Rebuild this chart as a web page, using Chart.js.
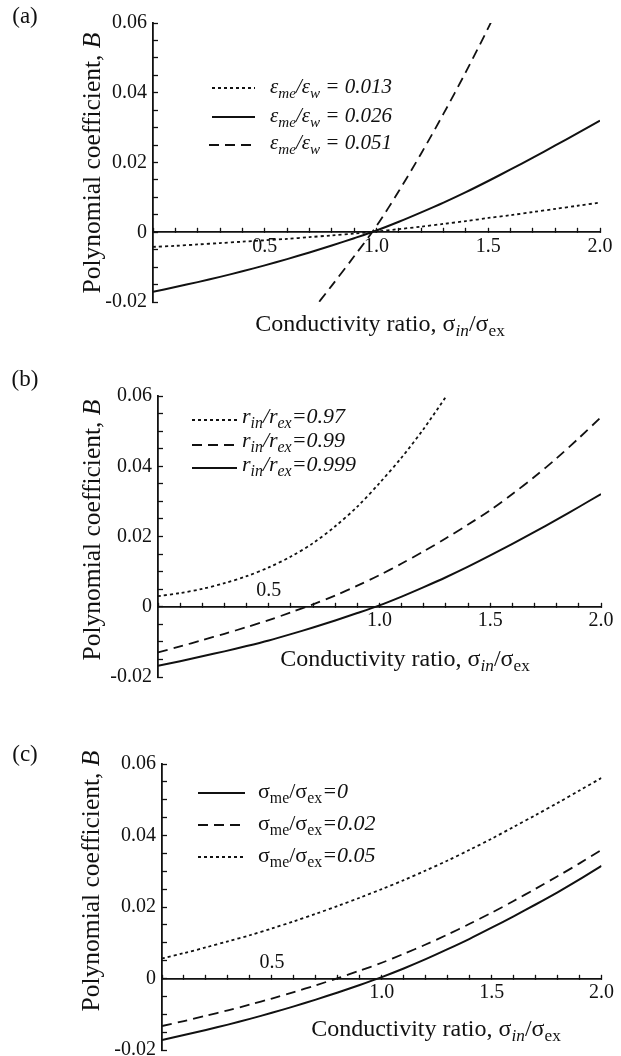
<!DOCTYPE html>
<html><head><meta charset="utf-8">
<script src="https://cdn.jsdelivr.net/npm/chart.js@4.4.1/dist/chart.umd.min.js"></script>
<style>
html,body{margin:0;padding:0;background:#fff;}
body{width:621px;height:1056px;position:relative;overflow:hidden;font-family:"Liberation Serif","Times New Roman",serif;color:#111;}
canvas{position:absolute;left:0;}
.t{position:absolute;white-space:nowrap;line-height:1;transform:translate(-50%,-50%);}
.l{position:absolute;white-space:nowrap;line-height:1;transform:translateY(-50%);font-size:21px;}
.rot{transform:translate(-50%,-50%) rotate(-90deg);}
.sub{font-size:0.72em;position:relative;top:0.3em;}
svg{position:absolute;overflow:visible;}
</style></head>
<body>
<canvas id="ca" width="621" height="340" style="top:0"></canvas>
<canvas id="cb" width="621" height="360" style="top:340px"></canvas>
<canvas id="cc" width="621" height="376" style="top:700px"></canvas>

<div class="t" style="left:25px;top:15px;font-size:23px">(a)</div>
<div class="t" style="left:25px;top:378px;font-size:23px">(b)</div>
<div class="t" style="left:25px;top:753px;font-size:23px">(c)</div>

<div class="t rot" style="left:92px;top:163px;font-size:25.5px">Polynomial coefficient, <i>B</i></div>
<div class="t rot" style="left:92px;top:530px;font-size:25.5px">Polynomial coefficient, <i>B</i></div>
<div class="t rot" style="left:91px;top:881px;font-size:25.5px">Polynomial coefficient, <i>B</i></div>

<div class="t" style="left:380px;top:323px;font-size:24px">Conductivity ratio, σ<span class="sub"><i>in</i></span>/σ<span class="sub">ex</span></div>
<div class="t" style="left:405px;top:658px;font-size:24px">Conductivity ratio, σ<span class="sub"><i>in</i></span>/σ<span class="sub">ex</span></div>
<div class="t" style="left:436px;top:1028px;font-size:24px">Conductivity ratio, σ<span class="sub"><i>in</i></span>/σ<span class="sub">ex</span></div>

<svg style="left:0;top:0" width="1" height="1">
  <line x1="212" y1="88" x2="255" y2="88" stroke="#111" stroke-width="1.8" stroke-dasharray="3,3"/>
  <line x1="212" y1="117" x2="255" y2="117" stroke="#111" stroke-width="2"/>
  <line x1="209" y1="145" x2="255" y2="145" stroke="#111" stroke-width="1.8" stroke-dasharray="10,6"/>
  <line x1="192" y1="420" x2="237" y2="420" stroke="#111" stroke-width="1.8" stroke-dasharray="3,3"/>
  <line x1="192" y1="445" x2="237" y2="445" stroke="#111" stroke-width="1.8" stroke-dasharray="10,6"/>
  <line x1="192" y1="468" x2="237" y2="468" stroke="#111" stroke-width="2"/>
  <line x1="198" y1="793" x2="245" y2="793" stroke="#111" stroke-width="2"/>
  <line x1="198" y1="825" x2="245" y2="825" stroke="#111" stroke-width="1.8" stroke-dasharray="10,6"/>
  <line x1="198" y1="857" x2="245" y2="857" stroke="#111" stroke-width="1.8" stroke-dasharray="3,3"/>
</svg>
<div class="l" style="left:270px;top:86px"><i>ε<span class="sub">me</span>/ε<span class="sub">w</span> = 0.013</i></div>
<div class="l" style="left:270px;top:115px"><i>ε<span class="sub">me</span>/ε<span class="sub">w</span> = 0.026</i></div>
<div class="l" style="left:270px;top:142px"><i>ε<span class="sub">me</span>/ε<span class="sub">w</span> = 0.051</i></div>

<div class="l" style="left:242px;top:416px;font-size:22px"><i>r<span class="sub">in</span>/r<span class="sub">ex</span>=0.97</i></div>
<div class="l" style="left:242px;top:440px;font-size:22px"><i>r<span class="sub">in</span>/r<span class="sub">ex</span>=0.99</i></div>
<div class="l" style="left:242px;top:464px;font-size:22px"><i>r<span class="sub">in</span>/r<span class="sub">ex</span>=0.999</i></div>

<div class="l" style="left:258px;top:791px;font-size:22px">σ<span class="sub">me</span>/σ<span class="sub">ex</span><i>=0</i></div>
<div class="l" style="left:258px;top:823px;font-size:22px">σ<span class="sub">me</span>/σ<span class="sub">ex</span><i>=0.02</i></div>
<div class="l" style="left:258px;top:855px;font-size:22px">σ<span class="sub">me</span>/σ<span class="sub">ex</span><i>=0.05</i></div>

<script>
// ---- data ----
const xValues = [0,0.1,0.2,0.3,0.4,0.5,0.6,0.7,0.8,0.9,1.0,1.1,1.2,1.3,1.4,1.5,1.6,1.7,1.8,1.9,2.0];

// panel (a): eps_me/eps_w
const dottedA = [-0.0042,-0.0039,-0.0035,-0.0031,-0.0027,-0.0023,-0.0019,-0.0014,-0.0009,-0.0004,0.0002,0.0009,0.0016,0.0024,0.0032,0.0041,0.0049,0.0058,0.0067,0.0076,0.0085];
const solidA  = [-0.0171,-0.0157,-0.0143,-0.0128,-0.0112,-0.0095,-0.0077,-0.0058,-0.0038,-0.0017,0.0005,0.0030,0.0057,0.0085,0.0115,0.0147,0.0180,0.0214,0.0249,0.0284,0.0320];
const dashedAX = [0.7,0.8,0.9,1.0,1.1,1.2,1.3,1.4,1.5,1.6];
const dashedA = [-0.0235,-0.0153,-0.0069,0.0018,0.0118,0.0226,0.0340,0.0460,0.0586,0.0720];

// panel (b): r_in/r_ex
const dottedBX = [0,0.1,0.2,0.3,0.4,0.5,0.6,0.7,0.8,0.9,1.0,1.1,1.2,1.3];
const dottedB = [0.0030,0.0039,0.0051,0.0067,0.0087,0.0112,0.0143,0.0181,0.0229,0.0285,0.0352,0.0425,0.0507,0.0598];
const dashedB = [-0.0130,-0.0113,-0.0095,-0.0077,-0.0058,-0.0038,-0.0016,0.0007,0.0032,0.0060,0.0090,0.0123,0.0158,0.0195,0.0234,0.0275,0.0321,0.0370,0.0423,0.0480,0.0540];
const solidB  = [-0.0168,-0.0155,-0.0141,-0.0127,-0.0112,-0.0096,-0.0078,-0.0059,-0.0039,-0.0018,0.0004,0.0029,0.0056,0.0084,0.0114,0.0146,0.0179,0.0213,0.0248,0.0284,0.0321];

// panel (c): sigma_me/sigma_ex
const solidC  = [-0.0172,-0.0158,-0.0144,-0.0129,-0.0113,-0.0096,-0.0078,-0.0059,-0.0039,-0.0018,0.0004,0.0028,0.0054,0.0082,0.0111,0.0142,0.0174,0.0207,0.0241,0.0277,0.0315];
const dashedC = [-0.0133,-0.0119,-0.0104,-0.0089,-0.0073,-0.0056,-0.0038,-0.0019,0.0001,0.0022,0.0044,0.0069,0.0095,0.0123,0.0153,0.0184,0.0217,0.0251,0.0286,0.0322,0.0360];
const dottedC = [0.0056,0.0071,0.0087,0.0104,0.0121,0.0140,0.0160,0.0181,0.0203,0.0226,0.0250,0.0275,0.0302,0.0330,0.0360,0.0391,0.0424,0.0457,0.0491,0.0526,0.0561];

// tick labels
const xTickValues = [0.5,1.0,1.5,2.0];
const xTickLabels = ['0.5','1.0','1.5','2.0'];
const yTickValues = [-0.02,0,0.02,0.04,0.06];
const yTickLabels = ['-0.02','0','0.02','0.04','0.06'];

// ---- chart setup ----
const INK = '#111';
const DOT = [3,3], DASH = [10,6];

function lbl(v, vals, labels, skip) {
  for (let i = 0; i < vals.length; i++) {
    if (Math.abs(v - vals[i]) < 1e-6 && !(skip && skip.includes(labels[i]))) return labels[i];
  }
  return '';
}
function pts(xs, ys) { return ys.map((y, i) => ({x: xs[i], y})); }
function ds(xs, ys, dash, w) {
  return {data: pts(xs, ys), borderColor: INK, borderWidth: w || 1.8, borderDash: dash || [],
          pointRadius: 0, tension: 0.3, fill: false};
}

function make(id, datasets, yW, pad, halfAbove) {
  const scales = {
    x: {type: 'linear', position: {y: 0}, min: 0, max: 2,
        ticks: {stepSize: 0.1, autoSkip: false, maxRotation: 0, minRotation: 0, padding: 7, color: INK,
                font: {size: 20}, callback: v => lbl(v, xTickValues, xTickLabels, halfAbove ? ['0.5'] : null)},
        grid: {drawOnChartArea: false, drawTicks: true, tickLength: -5, color: INK, tickColor: INK, tickWidth: 1.3},
        border: {display: true, color: INK, width: 1.8}},
    y: {type: 'linear', position: 'left', min: -0.02, max: 0.06,
        afterFit: s => { s.width = yW; },
        ticks: {stepSize: 0.005, autoSkip: false, padding: 11, color: INK, font: {size: 20},
                callback: v => lbl(v, yTickValues, yTickLabels)},
        grid: {drawOnChartArea: false, drawTicks: true, tickLength: -5, color: INK, tickColor: INK, tickWidth: 1.3},
        border: {display: true, color: INK, width: 1.8}}
  };
  if (halfAbove) {
    scales.x2 = {type: 'linear', axis: 'x', position: {y: 0}, min: 0, max: 2,
        ticks: {stepSize: 0.1, autoSkip: false, maxRotation: 0, minRotation: 0, padding: -28, color: INK,
                font: {size: 20}, callback: v => (Math.abs(v - xTickValues[0]) < 1e-6 ? xTickLabels[0] : '')},
        grid: {display: false, drawTicks: false}, border: {display: false}};
  }
  return new Chart(document.getElementById(id), {
    type: 'line',
    data: {datasets},
    options: {
      responsive: false, animation: false, devicePixelRatio: 1,
      layout: {padding: pad},
      plugins: {legend: {display: false}, tooltip: {enabled: false}},
      scales
    }
  });
}
Chart.defaults.font.family = '"Liberation Serif", "Times New Roman", serif';
Chart.defaults.color = INK;

make('ca', [ds(xValues, dottedA, DOT), ds(xValues, solidA, [], 2), ds(dashedAX, dashedA, DASH)],
     153, {left: 0, top: 16, right: 21, bottom: 38}, false);
make('cb', [ds(dottedBX, dottedB, DOT), ds(xValues, dashedB, DASH), ds(xValues, solidB, [], 2)],
     158, {left: 0, top: 56, right: 20, bottom: 20}, true);
make('cc', [ds(xValues, solidC, [], 2), ds(xValues, dashedC, DASH), ds(xValues, dottedC, DOT)],
     162, {left: 0, top: 64, right: 14, bottom: 26}, true);
</script>
</body></html>
